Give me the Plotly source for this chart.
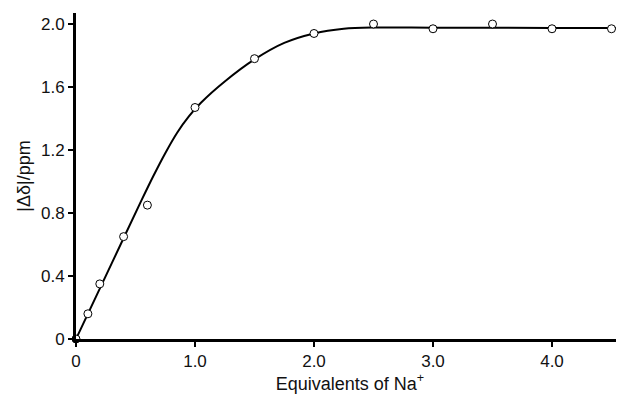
import plotly.graph_objects as go

# Measured points
eq_na = [0.0, 0.1, 0.2, 0.4, 0.6, 1.0, 1.5, 2.0, 2.5, 3.0, 3.5, 4.0, 4.5]
delta_ppm = [0.0, 0.16, 0.35, 0.65, 0.85, 1.47, 1.78, 1.94, 2.0, 1.97, 2.0, 1.97, 1.97]

# Fitted curve
fit_x = [0.0, 0.3, 0.55, 0.65, 0.75, 0.85, 0.95, 1.05, 1.25, 1.5, 1.75, 2.0, 2.25, 2.5, 3.0, 4.0, 4.7]
fit_y = [0.0, 0.48, 0.88, 1.035, 1.18, 1.31, 1.415, 1.5, 1.635, 1.775, 1.88, 1.94, 1.97, 1.978, 1.977, 1.975, 1.975]

x_tickvals = [0, 1, 2, 3, 4]
x_ticktext = ["0", "1.0", "2.0", "3.0", "4.0"]
y_tickvals = [0, 0.4, 0.8, 1.2, 1.6, 2.0]
y_ticktext = ["0", "0.4", "0.8", "1.2", "1.6", "2.0"]

fig = go.Figure()
fig.add_trace(go.Scatter(
    x=fit_x, y=fit_y, mode="lines",
    line=dict(color="black", width=2, shape="spline", smoothing=0.9),
    hoverinfo="skip", cliponaxis=False,
))
fig.add_trace(go.Scatter(
    x=eq_na, y=delta_ppm, mode="markers",
    marker=dict(symbol="circle", size=8, color="white",
                line=dict(color="black", width=1)),
    cliponaxis=False,
))

tick_font = dict(family="Liberation Sans, Arial, sans-serif", size=17, color="#111")
title_font = dict(family="Liberation Sans, Arial, sans-serif", size=18, color="#111")

# page body has an 8px margin; margins compensate for it
fig.update_layout(
    width=624, height=398,
    margin=dict(l=68, r=8, t=5, b=67),
    paper_bgcolor="white", plot_bgcolor="white",
    showlegend=False,
    font=tick_font,
    xaxis=dict(
        range=[0, 4.605], tickvals=x_tickvals, ticktext=x_ticktext,
        showgrid=False, zeroline=False, showline=True, linecolor="black", linewidth=2.5,
        ticks="outside", ticklen=5, tickwidth=1.5, tickcolor="black",
        title=dict(text="Equivalents of Na<sup>+</sup>", standoff=4, font=title_font),
        tickfont=tick_font, automargin=False,
    ),
    yaxis=dict(
        range=[0, 2.07], tickvals=y_tickvals, ticktext=y_ticktext,
        showgrid=False, zeroline=False, showline=True, linecolor="black", linewidth=3,
        ticks="outside", ticklen=5, tickwidth=1.5, tickcolor="black",
        title=dict(text="|Δδ|/ppm", standoff=6, font=title_font),
        tickfont=tick_font, automargin=False,
    ),
)

fig.write_html("out.html")
